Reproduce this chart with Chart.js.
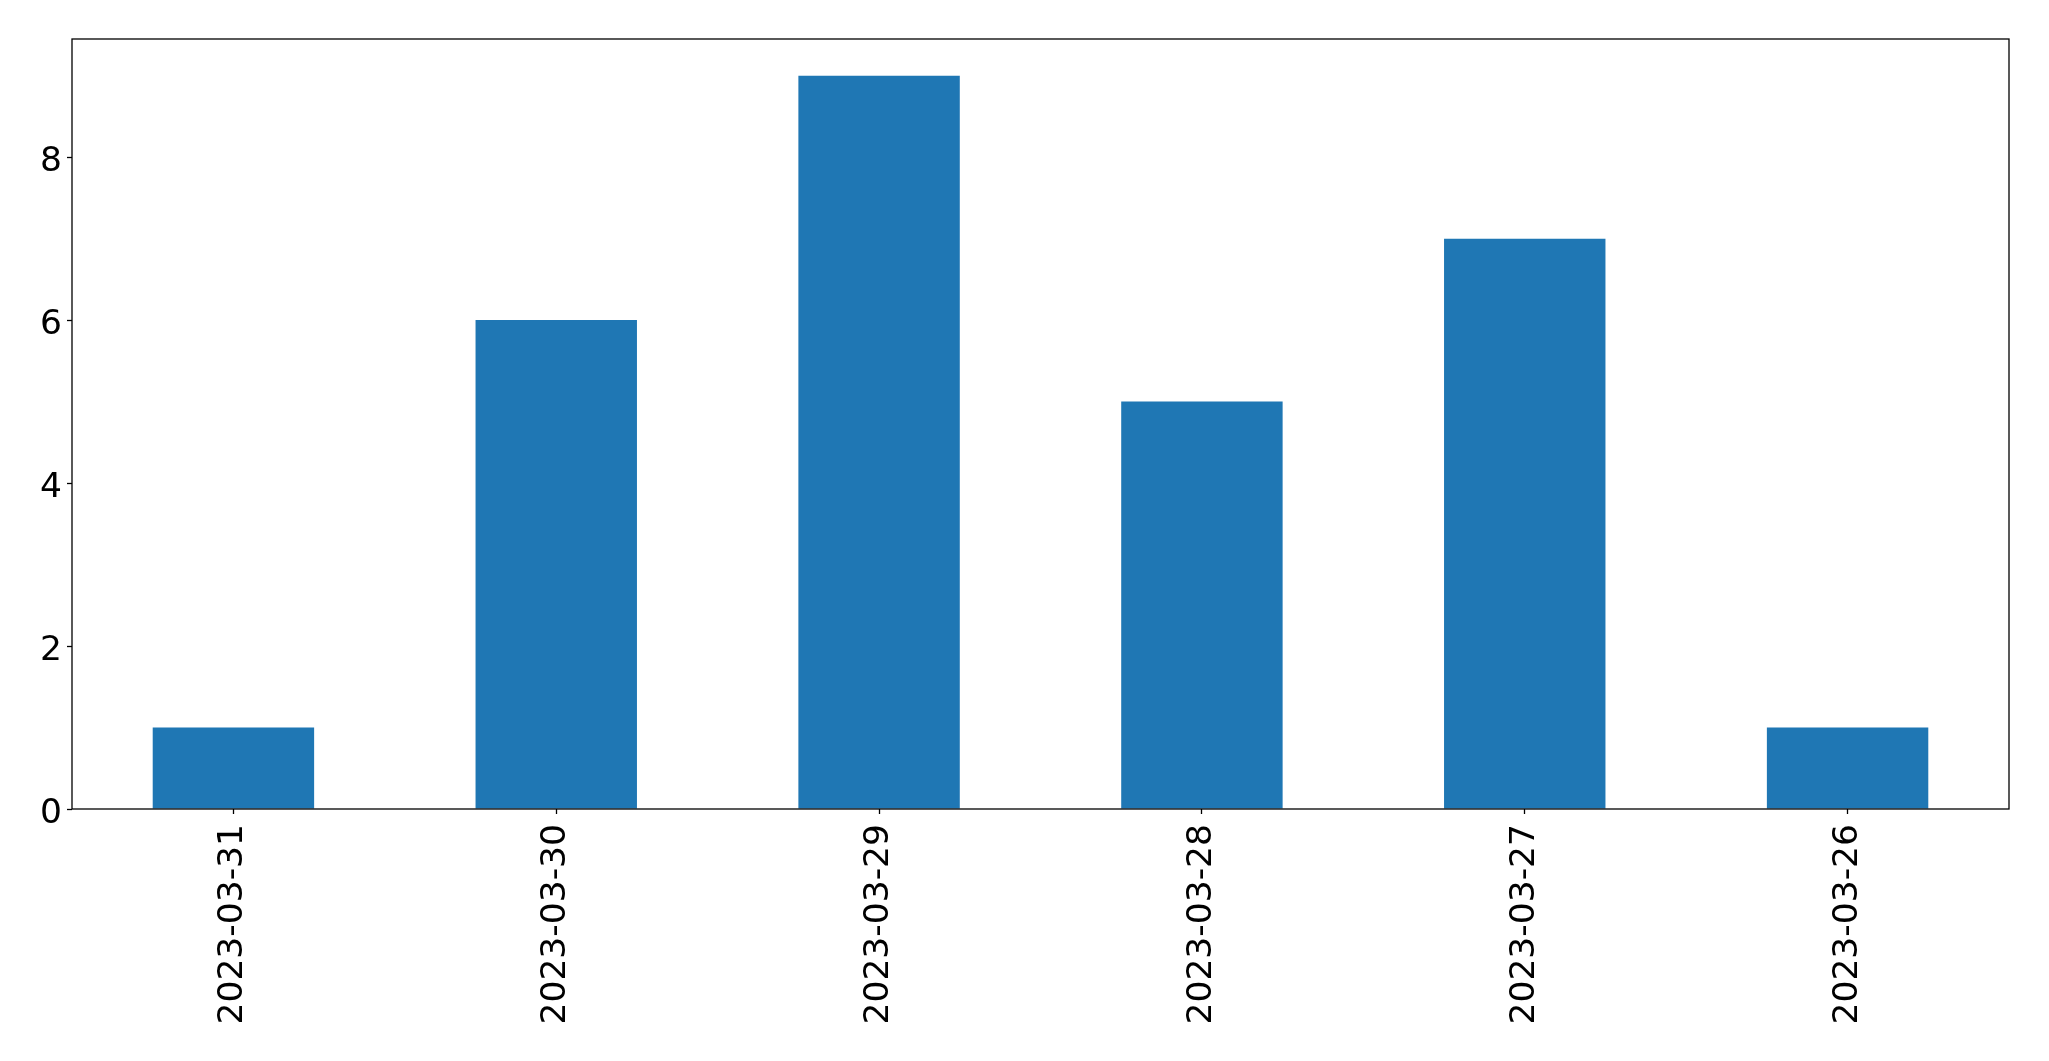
<!DOCTYPE html>
<html>
<head>
<meta charset="utf-8">
<script src="https://cdn.jsdelivr.net/npm/chart.js@4"></script>
<style>
  html, body { margin: 0; padding: 0; background: #fff; }
  #wrap { width: 2049px; height: 1061px; }
</style>
</head>
<body>
<div id="wrap"><canvas id="barPlot"></canvas></div>
<script>
const dates = ['2023-03-31', '2023-03-30', '2023-03-29', '2023-03-28', '2023-03-27', '2023-03-26']
const counts = [1, 6, 9, 5, 7, 1]
const yTicks = [0, 2, 4, 6, 8]
const yMax = 9.45

const FONT = { family: 'DejaVu Sans', size: 34.5 }
// small line height + leading empty line nudges the y labels a few px down
const Y_FONT = { family: 'DejaVu Sans', size: 34.5, lineHeight: '10px' }

// axes frame on all four sides, like matplotlib
const frame = {
    id: 'frame',
    afterDraw(chart) {
        const { ctx, chartArea: a } = chart
        ctx.save()
        ctx.strokeStyle = '#000'
        ctx.lineWidth = 1.3
        ctx.strokeRect(a.left, a.top, a.right - a.left, a.bottom - a.top)
        ctx.restore()
    }
}

new Chart(document.getElementById('barPlot'), {
    type: 'bar',
    data: {
        labels: dates,
        datasets: [{
            data: counts,
            backgroundColor: '#1f77b4',
            borderWidth: 0,
            categoryPercentage: 1.0,
            barPercentage: 0.5
        }]
    },
    options: {
        responsive: true,
        maintainAspectRatio: false,
        animation: false,
        layout: { padding: { top: 39, right: 40, left: 0, bottom: 0 } },
        plugins: { legend: { display: false }, tooltip: { enabled: false } },
        scales: {
            x: {
                offset: true,
                grid: { display: true, offset: false, drawOnChartArea: false, drawTicks: true, tickLength: 5, tickColor: '#000', tickWidth: 1.3 },
                border: { display: false },
                ticks: { color: '#000', font: FONT, maxRotation: 90, minRotation: 90, padding: 10, autoSkip: false },
                afterFit: (s) => { s.height = 1061 - 809 }
            },
            y: {
                min: 0,
                max: yMax,
                grid: { display: true, drawOnChartArea: false, drawTicks: true, tickLength: 5, tickColor: '#000', tickWidth: 1.3 },
                border: { display: false },
                ticks: { color: '#000', font: Y_FONT, padding: 5, callback: (v) => ['', String(v)] },
                afterBuildTicks: (s) => { s.ticks = yTicks.map(v => ({ value: v })) },
                afterFit: (s) => { s.width = 72 }
            }
        }
    },
    plugins: [frame]
})
</script>
</body>
</html>
